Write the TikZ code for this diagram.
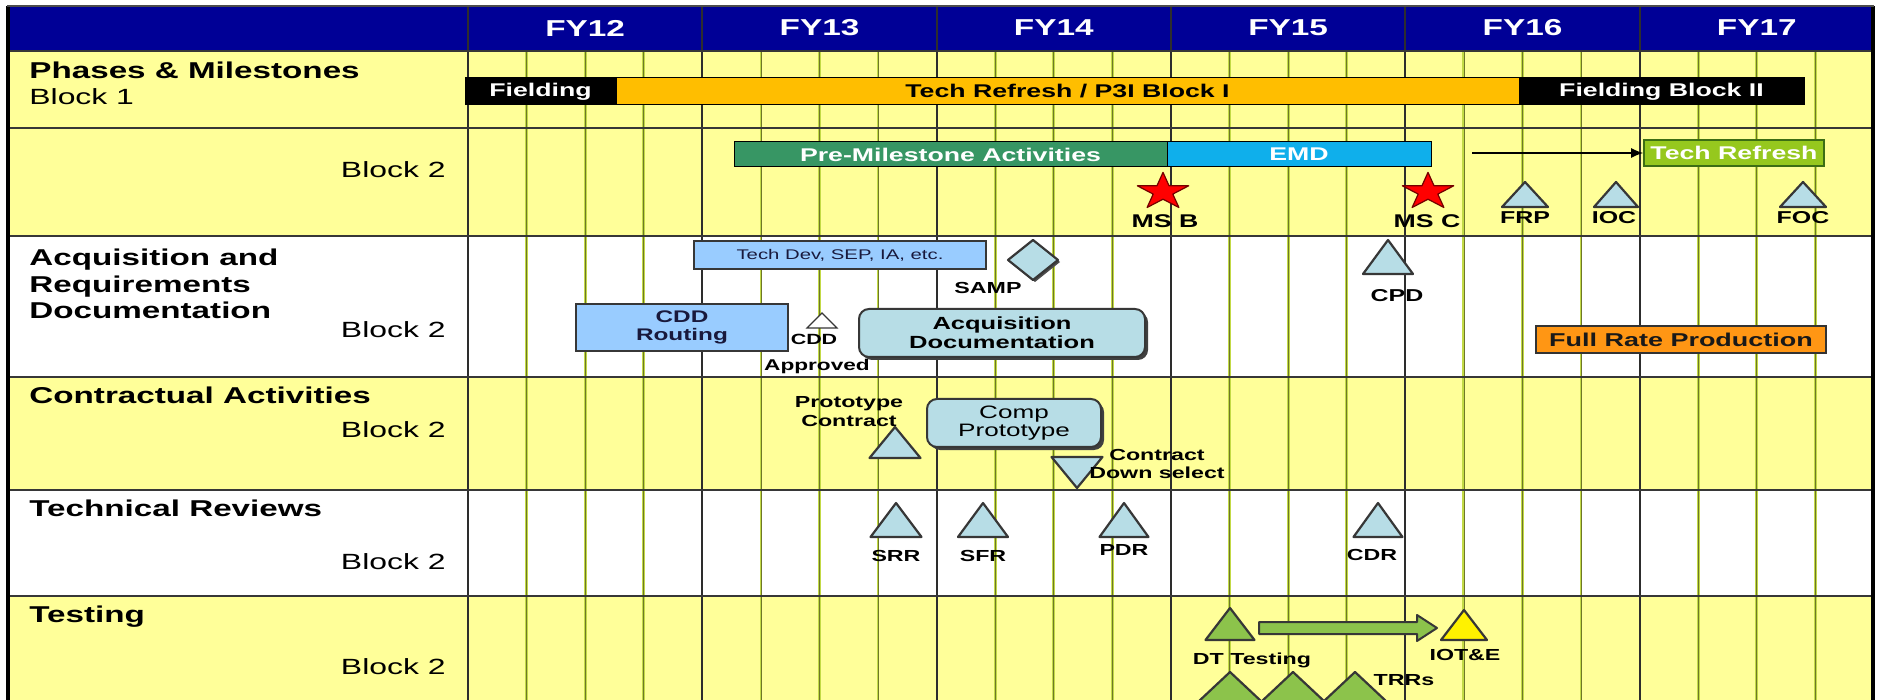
\documentclass[tikz,border=0pt]{standalone}
\usepackage{fontspec}
\setmainfont{Liberation Sans}[FakeStretch=1.45]
\usetikzlibrary{arrows.meta,shadows}

\definecolor{hdrblue}{RGB}{0,0,150}
\definecolor{rowyellow}{RGB}{255,255,153}
\definecolor{gridgreen}{RGB}{195,218,70}
\definecolor{griddark}{RGB}{110,120,40}
\definecolor{gridmajor}{RGB}{45,45,45}
\definecolor{barorange}{RGB}{255,190,0}
\definecolor{pmgreen}{RGB}{55,150,100}
\definecolor{emdblue}{RGB}{15,175,235}
\definecolor{trgreen}{RGB}{150,200,30}
\definecolor{trborder}{RGB}{60,110,20}
\definecolor{boxblue}{RGB}{153,204,255}
\definecolor{paleblue}{RGB}{183,221,230}
\definecolor{frporange}{RGB}{255,150,20}
\definecolor{testgreen}{RGB}{140,195,75}
\definecolor{outline}{RGB}{55,55,55}
\definecolor{darknavy}{RGB}{25,25,60}

% milestone triangle: fill, apex x, apex y, half base, height
\newcommand\mtri[5]{\filldraw[mtri,fill=#1] (#2,#3) -- ++(-#4,#5) -- ++(2*#4,0) -- cycle;}
% five-point milestone star centred on a named coordinate
\newcommand\msstar[1]{%
  \begin{scope}[shift={(#1)},yshift=-0.9pt,x=13.5pt,y=9.7pt]
    \filldraw[fill=red,draw=red!45!black,line width=0.6pt,line join=round]
      (0,1) -- (-0.2245,0.309) -- (-0.951,0.309) -- (-0.363,-0.118) -- (-0.588,-0.809)
      -- (0,-0.382) -- (0.588,-0.809) -- (0.363,-0.118) -- (0.951,0.309) -- (0.2245,0.309) -- cycle;
  \end{scope}}

\begin{document}
\begin{tikzpicture}[x=0.5pt,y=-0.5pt,
  wh/.style 2 args={minimum width={#1*0.5pt},minimum height={#2*0.5pt}},
  minorline/.style={draw=gridgreen,line width=1.4pt},
  minorcore/.style={draw=griddark,line width=0.35pt},
  majorline/.style={draw=gridmajor,line width=0.9pt},
  rowline/.style={draw=outline,line width=0.8pt},
  fy/.style={text=white,inner sep=0pt,font=\fontsize{11.5}{12}\selectfont\bfseries},
  rowhead/.style={anchor=west,align=left,inner sep=0pt,font=\fontsize{11.45}{13.3}\selectfont\bfseries},
  blocklbl/.style={anchor=mid east,inner sep=0pt,font=\fontsize{11}{13}\selectfont},
  bar/.style={draw=black,line width=0.5pt,inner sep=0pt,font=\fontsize{9.2}{10}\selectfont\bfseries},
  docbox/.style={draw=outline,line width=0.6pt,inner sep=0pt,align=center,text=darknavy},
  roundbox/.style={draw=outline,line width=1pt,rounded corners=5pt,fill=paleblue,inner sep=0pt,align=center,
    drop shadow={shadow xshift=1.5pt,shadow yshift=-1.5pt,fill=black!75,opacity=1}},
  lbl/.style={inner sep=0pt,align=center,font=\fontsize{8}{9.5}\selectfont\bfseries},
  mslbl/.style={inner sep=0pt,font=\fontsize{9.2}{10}\selectfont\bfseries},
  mtri/.style={draw=outline,line width=1.1pt,line join=round}]

\useasboundingbox (0,0) rectangle (1881,700);
\begin{scope}
\clip (0,0) rectangle (1881,700);

% ---- table background ----
\fill[white] (0,0) rectangle (1881,700);
\fill[hdrblue] (7,6) rectangle (1874,51);
\fill[rowyellow] (7,51) rectangle (1874,236);
\fill[white] (7,236) rectangle (1874,377);
\fill[rowyellow] (7,377) rectangle (1874,490);
\fill[white] (7,490) rectangle (1874,596);
\fill[rowyellow] (7,596) rectangle (1874,700);

% quarter lines
\foreach \q in {1,2,3,5,6,7,9,10,11,13,14,15,17,18,19,21,22,23}{
  \draw[minorline] ({468+58.58*\q},51) -- ({468+58.58*\q},700);
  \draw[minorcore] ({468+58.58*\q},51) -- ({468+58.58*\q},700);
}
% fiscal year lines
\foreach \k in {0,...,5}
  \draw[majorline] ({468+234.33*\k},6) -- ({468+234.33*\k},700);
% row separators
\foreach \r in {51,128,236,377,490,596}
  \draw[rowline] (7,\r) -- (1874,\r);
% frame
\draw[line width=1.6pt] (8,6) -- (8,700);
\draw[line width=1.6pt] (1873,6) -- (1873,700);
\draw[line width=0.8pt,black!70] (7,6) -- (1874,6);

% ---- header ----
\foreach \yr [count=\i from 0] in {12,...,17}
  \node[fy] (fy\yr) at ({468+234.33*(\i+0.5)},28) {FY\yr};

% ---- row titles ----
\node[rowhead,anchor=mid west] (phases) at (29,73) {Phases \& Milestones};
\node[anchor=mid west,inner sep=0pt,font=\fontsize{11}{13}\selectfont] (blk1) at (29,99) {Block 1};
\node[blocklbl] (blk2a) at (446,172) {Block 2};
\node[rowhead] (acq) at (29,284) {Acquisition and\\Requirements\\Documentation};
\node[blocklbl] (blk2b) at (446,332) {Block 2};
\node[rowhead,anchor=mid west] (contr) at (29,398) {Contractual Activities};
\node[blocklbl] (blk2c) at (446,432) {Block 2};
\node[rowhead,anchor=mid west] (techrev) at (29,511) {Technical Reviews};
\node[blocklbl] (blk2d) at (446,564) {Block 2};
\node[rowhead,anchor=mid west] (testing) at (29,617) {Testing};
\node[blocklbl] (blk2e) at (446,669) {Block 2};

% ---- phases and milestones, block 1 ----
\node[bar,fill=black,text=white,wh={151}{27}] (fielding) at (540.5,91.5) {Fielding};
\node[bar,fill=barorange,text=black,wh={903}{27}] (p3i) at (1067.5,91.5) {Tech Refresh / P3I Block I};
\node[bar,fill=black,text=white,wh={285}{27}] (fieldII) at (1661.5,91.5) {Fielding Block II};

% ---- phases and milestones, block 2 ----
\node[bar,fill=pmgreen,text=white,wh={433}{25}] (premil) at (950.5,154.5) {Pre-Milestone Activities};
\node[bar,fill=emdblue,text=white,wh={264}{25}] (emd) at (1299,154.5) {EMD};
\node[bar,draw=trborder,line width=0.8pt,fill=trgreen,text=white,wh={180}{26}] (techref) at (1734,153) {Tech Refresh};
\coordinate (arrfrom) at (1472,153);
\draw[line width=0.6pt,-{Latex[length=6pt,width=5pt]}] (arrfrom) -- (techref.west);

\coordinate (msb) at (1163,190);
\coordinate (msc) at (1428,190);
\msstar{msb}
\msstar{msc}
\node[mslbl] (msblbl) at (1165,221) {MS B};
\node[mslbl] (msclbl) at (1427,221) {MS C};

\mtri{paleblue}{1525}{182}{23}{25}
\mtri{paleblue}{1616}{182}{22}{25}
\mtri{paleblue}{1803}{182}{23}{25}
\node[lbl,font=\fontsize{8.6}{10}\selectfont\bfseries] (frp) at (1525,218) {FRP};
\node[lbl,font=\fontsize{8.6}{10}\selectfont\bfseries] (ioc) at (1614,218) {IOC};
\node[lbl,font=\fontsize{8.6}{10}\selectfont\bfseries] (foc) at (1803,218) {FOC};

% ---- acquisition and requirements documentation ----
\node[docbox,fill=boxblue,wh={292}{28},font=\fontsize{7}{8}\selectfont] (techdev) at (840,255) {Tech Dev, SEP, IA, etc.};
\filldraw[mtri,fill=paleblue,drop shadow={shadow xshift=1pt,shadow yshift=-1pt,fill=black!70,opacity=1}]
  (1033,240) -- (1058,260) -- (1033,280) -- (1008,260) -- cycle;
\node[lbl] (samp) at (988,288) {SAMP};

\node[docbox,fill=boxblue,wh={212}{47},font=\fontsize{8.4}{9}\selectfont\bfseries] (cddrout) at (682,327.5) {CDD\\Routing};
\filldraw[draw=outline,line width=0.6pt,fill=white] (822,313) -- ++(-15,15) -- ++(30,0) -- cycle;
\node[lbl,font=\fontsize{7.4}{9}\selectfont\bfseries] (cddlbl) at (814,339) {CDD};
\node[lbl,font=\fontsize{7.8}{9}\selectfont\bfseries] (approved) at (817,366) {Approved};

\node[roundbox,wh={286}{48},font=\fontsize{8.8}{9.5}\selectfont\bfseries] (acqdoc) at (1002,333) {Acquisition\\Documentation};

\mtri{paleblue}{1388}{240}{25}{34}
\node[lbl,font=\fontsize{8.6}{10}\selectfont\bfseries] (cpd) at (1397,296) {CPD};

\node[docbox,draw=black!80,fill=frporange,text=black!90,wh={290}{27},font=\fontsize{9.3}{10}\selectfont\bfseries] (frpbox) at (1681,339.5) {Full Rate Production};

% ---- contractual activities ----
\node[lbl,font=\fontsize{8}{9.5}\selectfont\bfseries] (protolbl) at (849,412) {Prototype\\Contract};
\mtri{paleblue}{895}{427}{25.5}{31}
\node[roundbox,wh={174}{48},font=\fontsize{9}{8.7}\selectfont] (compproto) at (1014,423) {Comp\\Prototype};
\filldraw[mtri,fill=paleblue] (1077,488) -- ++(-25.5,-31) -- ++(51,0) -- cycle;
\node[lbl,font=\fontsize{8}{8.6}\selectfont\bfseries] (downsel) at (1157,464) {Contract\\Down select};

% ---- technical reviews ----
\mtri{paleblue}{896}{503}{25.5}{34}
\mtri{paleblue}{983}{503}{25}{34}
\mtri{paleblue}{1124}{503}{24.5}{34}
\mtri{paleblue}{1378}{503}{24.5}{34}
\node[lbl] (srr) at (896,556) {SRR};
\node[lbl] (sfr) at (983,556) {SFR};
\node[lbl] (pdr) at (1124,550) {PDR};
\node[lbl] (cdr) at (1372,555) {CDR};

% ---- testing ----
\mtri{testgreen}{1230}{608}{24.5}{32}
\filldraw[mtri,line width=1pt,fill=testgreen]
  (1259,622) -- (1417,622) -- (1417,615) -- (1437,628) -- (1417,641) -- (1417,634) -- (1259,634) -- cycle;
\mtri{yellow}{1464}{610}{23}{30}
\node[lbl] (dtlbl) at (1252,660) {DT Testing};
\node[lbl] (iotelbl) at (1465,655) {IOT\&E};
\mtri{testgreen}{1230}{672}{32}{30}
\mtri{testgreen}{1293}{672}{32}{30}
\mtri{testgreen}{1355}{672}{32}{30}
\node[lbl] (trrs) at (1404,680) {TRRs};
\end{scope}
\end{tikzpicture}
\end{document}
